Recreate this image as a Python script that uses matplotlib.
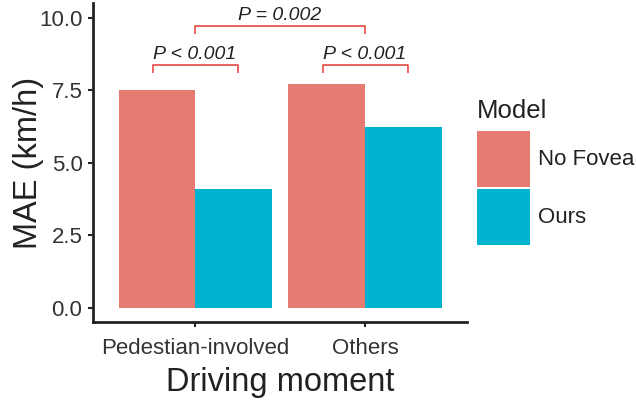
import matplotlib
matplotlib.use('Agg')
import matplotlib.pyplot as plt
from matplotlib.patches import Patch
import numpy as np

plt.rcParams['font.family'] = ['Liberation Sans', 'DejaVu Sans']

categories = ['Pedestian-involved', 'Others']
models = ['No Fovea', 'Ours']
no_fovea = [7.5, 7.72]
ours = [4.08, 6.25]
colors = ['#E67B72', '#00B4CF']

# comparisons: (x_left, x_right, bar height, label)
comparisons = [
    (0.75, 1.25, 8.38, 'P < 0.001'),
    (1.75, 2.25, 8.38, 'P < 0.001'),
    (1.0, 2.0, 9.72, 'P = 0.002'),
]

fig = plt.figure(figsize=(6.36, 4.0), dpi=100)
ax = fig.add_axes([93/636, 1 - 322/400, (467-93)/636, (322-3.5)/400])

xpos = np.arange(1, len(categories) + 1)
w = 0.45
ax.bar(xpos - w/2, no_fovea, width=w, color=colors[0], label=models[0])
ax.bar(xpos + w/2, ours, width=w, color=colors[1], label=models[1])

bracket_col = '#E53935'
for x0, x1, y, lab in comparisons:
    ax.plot([x0, x0, x1, x1], [y - 0.28, y, y, y - 0.28], color=bracket_col,
            lw=1.1, solid_capstyle='butt', clip_on=False)
    ax.text((x0 + x1) / 2, y + 0.08, lab, ha='center', va='bottom',
            fontsize=14, style='italic', color='#222222')

ax.set_xlim(0.4, 2.6)
ax.set_ylim(-0.5, 10.5)
ax.set_yticks([0, 2.5, 5, 7.5, 10])
ax.set_yticklabels(['0.0', '2.5', '5.0', '7.5', '10.0'])
ax.set_xticks(xpos)
ax.set_xticklabels(categories)
ax.tick_params(axis='both', labelsize=16, colors='#222222', labelcolor='#333333',
               width=1.5, length=3.6)
ax.tick_params(axis='y', pad=4)
ax.tick_params(axis='x', pad=8)

for s in ['top', 'right']:
    ax.spines[s].set_visible(False)
for s in ['left', 'bottom']:
    ax.spines[s].set_linewidth(2)
    ax.spines[s].set_color('#222222')

ax.set_ylabel('MAE (km/h)', fontsize=23.5, color='#222222')
ax.yaxis.set_label_coords(-0.13, 0.5)
ax.set_xlabel('Driving moment', fontsize=23.5, color='#222222', labelpad=6)

handles = [Patch(facecolor=colors[0], edgecolor='none'),
           Patch(facecolor=colors[1], edgecolor='none')]
leg = fig.legend(handles, models, title='Model', loc='upper left',
                 bbox_to_anchor=(466/636, 1 - 88/400), frameon=False,
                 fontsize=16, title_fontsize=18.5, handlelength=2.4,
                 handleheight=3.45, labelspacing=0.12, handletextpad=0.32,
                 borderpad=0, alignment='left')
leg._legend_box.sep = 6
for t in leg.get_texts():
    t.set_color('#222222')
leg.get_title().set_color('#222222')

fig.savefig('out.png', dpi=100)
